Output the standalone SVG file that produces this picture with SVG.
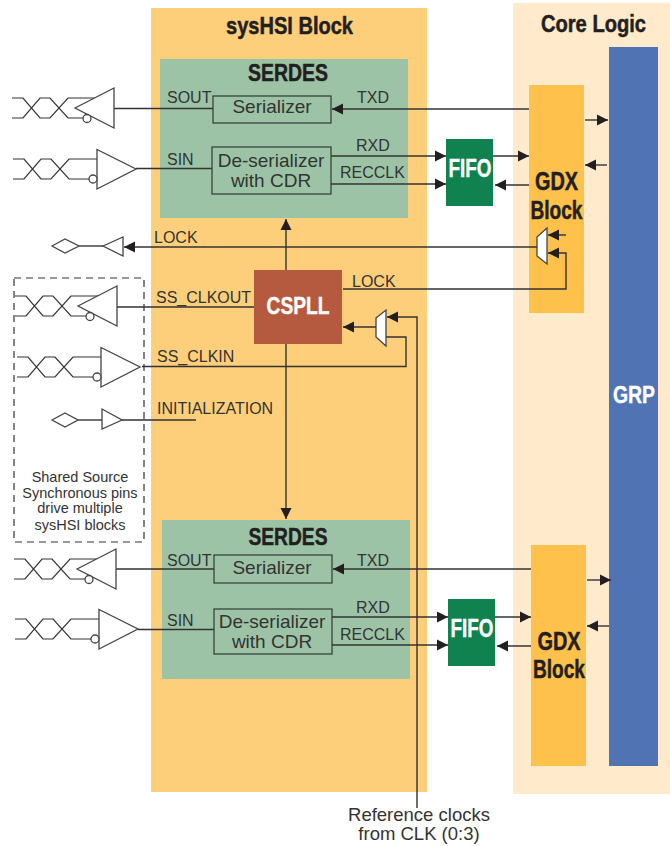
<svg xmlns="http://www.w3.org/2000/svg" xmlns:xlink="http://www.w3.org/1999/xlink" width="670" height="846" viewBox="0 0 670 846">
<style>
text{font-family:"Liberation Sans",Arial,sans-serif;fill:#333}
.l{font-size:16px}
.m{font-size:19px;text-anchor:middle}
.r{font-size:18.500px;text-anchor:middle}
.s{font-size:14.500px;text-anchor:middle}
.t{font-weight:bold;fill:#231f20;stroke:#231f20;stroke-width:.5;text-anchor:middle}
.w{font-weight:bold;fill:#fff;stroke:#fff;stroke-width:.4;text-anchor:middle}
.c{fill:none;stroke:#333;stroke-width:1.4}
.a{marker-end:url(#ah)}
.b{fill:#fff;stroke:#444;stroke-width:1.3}
.bx{fill:none;stroke:#2f3a33;stroke-width:1.2}
</style>
<defs>
<marker id="ah" markerUnits="userSpaceOnUse" markerWidth="13" markerHeight="13" refX="11" refY="6.500" orient="auto"><path d="M0,1L11,6.500L0,12Z" fill="#231f20"/></marker>
<g id="ob"><path d="M0,0H11L28,20H38L56,0H84M0,20H11L28,0H38L56,20H72" fill="none" stroke="#333" stroke-width="1.2"/><path class="b" d="M63,10L102,-10V30Z"/><circle class="b" cx="75" cy="20.500" r="4"/></g>
<g id="ib"><path d="M0,0H11L28,20H38L56,0H84M0,20H11L28,0H38L56,20H77" fill="none" stroke="#333" stroke-width="1.2"/><path class="b" d="M84,-9.500V30L123,10Z"/><circle class="b" cx="80" cy="20" r="4"/></g>
</defs>
<g id="backgrounds">
<rect x="151" y="8" width="276" height="784" fill="#fecf7b"/>
<rect x="513" y="3" width="157" height="791" fill="#ffeacb"/>
</g>
<text class="t" x="289.500" y="34" font-size="24" textLength="127" lengthAdjust="spacingAndGlyphs">sysHSI Block</text>
<text class="t" x="593.500" y="32" font-size="24" textLength="105" lengthAdjust="spacingAndGlyphs">Core Logic</text>
<g id="grp"><rect x="609" y="47" width="49" height="719" fill="#5074b3"/><text class="w" x="634" y="403" font-size="24" textLength="42" lengthAdjust="spacingAndGlyphs">GRP</text></g>
<g id="gdx1"><rect x="529" y="85" width="55" height="228" fill="#fec24c"/><text class="t" x="556.500" y="190" font-size="25" textLength="43" lengthAdjust="spacingAndGlyphs">GDX</text><text class="t" x="556.500" y="219" font-size="25" textLength="52" lengthAdjust="spacingAndGlyphs">Block</text></g>
<g id="gdx2"><rect x="531" y="545" width="55" height="221" fill="#fec24c"/><text class="t" x="559" y="650" font-size="25" textLength="43" lengthAdjust="spacingAndGlyphs">GDX</text><text class="t" x="559" y="678" font-size="25" textLength="52" lengthAdjust="spacingAndGlyphs">Block</text></g>
<g id="serdes1"><rect x="160" y="59" width="248" height="159" fill="#9dc3a7"/><text class="t" x="288" y="81" font-size="24" textLength="80" lengthAdjust="spacingAndGlyphs">SERDES</text></g>
<g id="serdes2"><rect x="162" y="520" width="248" height="159" fill="#9dc3a7"/><text class="t" x="288" y="545" font-size="24" textLength="79" lengthAdjust="spacingAndGlyphs">SERDES</text></g>
<g id="serializer1"><rect class="bx" x="213" y="96" width="118" height="27"/><text class="m" x="272" y="113">Serializer</text></g>
<g id="deser1"><rect class="bx" x="212" y="147" width="119" height="47"/><text class="m" x="271" y="167">De-serializer</text><text class="m" x="271" y="187">with CDR</text></g>
<g id="serializer2"><rect class="bx" x="214" y="555" width="118" height="28"/><text class="m" x="272" y="574">Serializer</text></g>
<g id="deser2"><rect class="bx" x="214" y="609" width="118" height="45"/><text class="m" x="272" y="628">De-serializer</text><text class="m" x="272" y="648">with CDR</text></g>
<g id="fifo1"><rect x="446" y="139" width="47" height="67" fill="#0f8250"/><text class="w" x="470" y="177" font-size="26" textLength="43" lengthAdjust="spacingAndGlyphs">FIFO</text></g>
<g id="fifo2"><rect x="448" y="599" width="47" height="67" fill="#0f8250"/><text class="w" x="472" y="637" font-size="26" textLength="43" lengthAdjust="spacingAndGlyphs">FIFO</text></g>
<g id="cspll"><rect x="254" y="270" width="88" height="74" fill="#b65a3f"/><text class="w" x="298" y="314" font-size="24" textLength="63" lengthAdjust="spacingAndGlyphs">CSPLL</text></g>
<g id="connectors">
<path class="c" d="M114,108.500H213M136,168.500H212M117,307H254M142,366.500H406V337H385M122,420H196M116,569H214M138,629.500H214"/>
<path class="c a" d="M529,109H332"/>
<path class="c a" d="M331,156H446"/>
<path class="c a" d="M331,184H446"/>
<path class="c a" d="M493,156H529"/>
<path class="c a" d="M529,185H495"/>
<path class="c a" d="M585,120H608"/>
<path class="c a" d="M607,165H585"/>
<path class="c a" d="M531,569H333"/>
<path class="c a" d="M332,617H448"/>
<path class="c a" d="M332,645H448"/>
<path class="c a" d="M495,617H531"/>
<path class="c a" d="M531,646H497"/>
<path class="c a" d="M587,580H611"/>
<path class="c a" d="M609,626H587"/>
<path class="c a" d="M537,247H124"/>
<path class="c a" d="M566,235H548"/>
<path class="c a" d="M343,289H566V253H548"/>
<path class="c a" d="M376,327H343"/>
<path class="c a" d="M417,808V317H387"/>
<path class="c a" d="M286,270V219"/>
<path class="c a" d="M286,344V519"/>
</g>
<g id="drivers">
<use xlink:href="#ob" x="12" y="98"/>
<use xlink:href="#ib" x="13" y="159"/>
<use xlink:href="#ob" x="15" y="296"/>
<use xlink:href="#ib" x="17" y="357"/>
<use xlink:href="#ob" x="14" y="559"/>
<use xlink:href="#ib" x="15" y="619"/>
</g>
<g id="lock-out"><path class="b" d="M52,246L65,239L79,246L65,253ZM79,246H103"/><path class="b" d="M103,246L123,237V256Z"/></g>
<g id="init-in"><path class="b" d="M52,420L65,413L78,420L65,427ZM78,420H102"/><path class="b" d="M102,409V429L122,420Z"/></g>
<g id="mux1"><path class="b" d="M537,237L547,228V264L537,256Z"/></g>
<g id="mux2"><path class="b" d="M376,318L386,310V346L376,337Z"/></g>
<g id="shared"><rect x="14" y="278" width="130" height="264" fill="none" stroke="#333" stroke-width="1.2" stroke-dasharray="7 5"/>
<text class="s" x="80" y="482">Shared Source</text><text class="s" x="80" y="498">Synchronous pins</text><text class="s" x="80" y="513">drive multiple</text><text class="s" x="80" y="530">sysHSI blocks</text></g>
<g id="labels">
<text class="l" x="167" y="103">SOUT</text><text class="l" x="167" y="165">SIN</text><text class="l" x="357" y="103">TXD</text><text class="l" x="356" y="151">RXD</text><text class="l" x="340" y="178">RECCLK</text>
<text class="l" x="154" y="243">LOCK</text><text class="l" x="352" y="287">LOCK</text><text class="l" x="156" y="303">SS_CLKOUT</text><text class="l" x="157" y="362">SS_CLKIN</text><text class="l" x="157" y="414">INITIALIZATION</text>
<text class="l" x="167" y="566">SOUT</text><text class="l" x="167" y="626">SIN</text><text class="l" x="357" y="566">TXD</text><text class="l" x="356" y="613">RXD</text><text class="l" x="340" y="640">RECCLK</text>
<text class="r" x="419" y="821">Reference clocks</text><text class="r" x="419" y="840">from CLK (0:3)</text>
</g>
</svg>
